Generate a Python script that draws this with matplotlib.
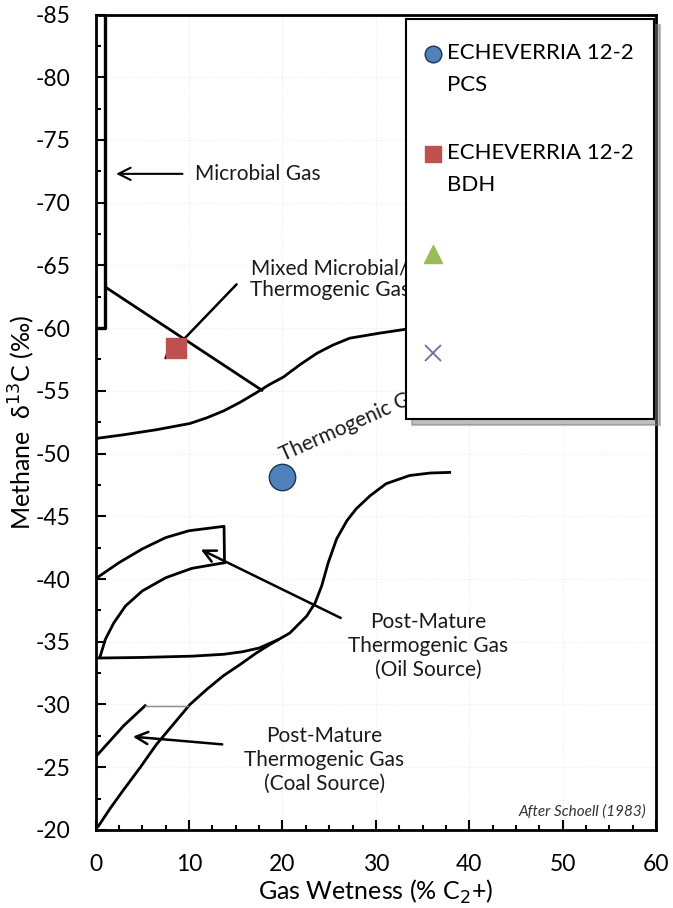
import numpy as np
import matplotlib
matplotlib.use("Agg")
import matplotlib.pyplot as plt
from matplotlib.lines import Line2D

plt.rcParams['font.family'] = ['Lato', 'DejaVu Sans']
plt.rcParams['axes.unicode_minus'] = False

# sample points
pcs_x = [20.0]
pcs_y = [-48.1]
bdh_x = [8.6]
bdh_y = [-58.4]

# Schoell (1983) field boundaries
microbial_x = [0.0, 1.0, 1.0]
microbial_y = [-60.0, -60.0, -85.0]

mixed_x = [1.2, 17.8]
mixed_y = [-63.2, -55.05]

thermo_top_x = [0.0, 3.0, 6.5, 10.1, 11.9, 13.7, 15.5, 17.2, 18.6, 20.1, 21.9, 23.7, 25.4, 27.2, 30.4, 33.1, 36.0]
thermo_top_y = [-51.2, -51.5, -51.9, -52.4, -52.85, -53.4, -54.1, -54.85, -55.5, -56.1, -57.1, -58.0, -58.65, -59.2, -59.6, -59.9, -60.1]

thermo_low_x = [0.3, 1.55, 3.0, 4.8, 6.5, 8.3, 10.1, 11.9, 13.7, 15.5, 17.2, 18.7, 20.8, 22.6, 23.5, 24.2,
                24.9, 25.8, 26.9, 27.9, 29.4, 31.1, 33.6, 35.8, 37.9]
thermo_low_y = [-20.3, -21.7, -23.2, -25.0, -26.8, -28.4, -30.0, -31.2, -32.3, -33.2, -34.1, -34.8, -35.7, -37.05, -38.1, -39.45,
                -41.3, -43.2, -44.65, -45.6, -46.65, -47.6, -48.25, -48.45, -48.5]

oil_outer_x = [0.15, 2.5, 5.0, 7.5, 10.0, 13.75, 13.8]
oil_outer_y = [-40.1, -41.3, -42.4, -43.3, -43.85, -44.2, -41.3]
oil_inner_x = [13.8, 10.3, 7.5, 5.0, 3.2, 1.95, 1.05, 0.5]
oil_inner_y = [-41.3, -40.85, -40.1, -39.05, -37.85, -36.5, -35.2, -33.85]
oil_base_x = [0.15, 5.0, 10.3, 13.7, 15.7, 17.5, 19.5]
oil_base_y = [-33.7, -33.75, -33.85, -34.0, -34.2, -34.5, -35.15]

coal_x = [0.1, 1.55, 3.0, 5.3]
coal_y = [-25.9, -27.1, -28.3, -29.9]
coal_top_x = [5.3, 9.9]
coal_top_y = [-29.9, -29.9]

legend_labels = ['ECHEVERRIA 12-2\nPCS', 'ECHEVERRIA 12-2\nBDH', ' \n ', ' \n ']

fig = plt.figure(figsize=(6.73, 9.08), dpi=100)
ax = fig.add_axes([0.142, 0.086, 0.833, 0.898])

ax.set_xlim(0, 60)
ax.set_ylim(-20, -85)
ax.set_xticks(np.arange(0, 61, 10))
ax.set_yticks(np.arange(-85, -19, 5))
ax.set_xticks(np.arange(0, 61, 2.5), minor=True)
ax.set_yticks(np.arange(-85, -19, 2.5), minor=True)
ax.tick_params(which='both', direction='in', width=1.5, labelsize=16.5)
ax.tick_params(axis='y', pad=18)
ax.tick_params(axis='x', pad=17)
ax.tick_params(which='major', length=7)
ax.tick_params(which='minor', length=3.5)
ax.grid(True, which='major', color='#ebebeb', lw=0.8, ls=':')
for s in ax.spines.values():
    s.set_linewidth(2)

ax.set_xlabel('Gas Wetness (% C$_2$+)', fontsize=18, labelpad=2)
ax.set_ylabel('Methane  δ$^{13}$C (‰)', fontsize=18, va='center')
ax.yaxis.set_label_coords(-0.132, 0.5)

lw = 2
ax.plot(microbial_x, microbial_y, color='black', lw=2.4)
ax.plot(mixed_x, mixed_y, color='black', lw=lw)
ax.plot(thermo_top_x, thermo_top_y, color='black', lw=lw)
ax.plot(thermo_low_x, thermo_low_y, color='black', lw=lw)
ax.plot(oil_outer_x, oil_outer_y, color='black', lw=lw)
ax.plot(oil_inner_x, oil_inner_y, color='black', lw=lw)
ax.plot(oil_base_x, oil_base_y, color='black', lw=lw)
ax.plot(coal_x, coal_y, color='black', lw=lw)
ax.plot(coal_top_x, coal_top_y, color='#888888', lw=1)

tc = '#1a1a1a'
fs = 15
ax.annotate('', xy=(1.9, -72.3), xytext=(9.6, -72.3),
            arrowprops=dict(arrowstyle='->', color='black', lw=1.5, mutation_scale=22))
ax.text(10.6, -72.3, 'Microbial Gas', fontsize=fs, color=tc, va='center')

ax.annotate('', xy=(7.1, -57.3), xytext=(15.3, -63.65),
            arrowprops=dict(arrowstyle='-|>', color='black', lw=1.8, mutation_scale=18))
ax.text(25.1, -63.9, 'Mixed Microbial/\nThermogenic Gas', fontsize=fs, color=tc,
        ha='center', va='center', multialignment='center', linespacing=1.15)

ax.text(20.1, -49.4, 'Thermogenic Gas', fontsize=fs, color=tc, rotation=24,
        rotation_mode='anchor', ha='left', va='baseline')

ax.annotate('', xy=(11.0, -42.45), xytext=(26.5, -36.8),
            arrowprops=dict(arrowstyle='->', color='black', lw=1.8, mutation_scale=22))
ax.text(35.6, -34.7, 'Post-Mature\nThermogenic Gas\n(Oil Source)', fontsize=fs, color=tc,
        ha='center', va='center', multialignment='center', linespacing=1.25)

ax.annotate('', xy=(3.7, -27.45), xytext=(13.85, -26.8),
            arrowprops=dict(arrowstyle='->', color='black', lw=1.8, mutation_scale=22))
ax.text(24.5, -25.6, 'Post-Mature\nThermogenic Gas\n(Coal Source)', fontsize=fs, color=tc,
        ha='center', va='center', multialignment='center', linespacing=1.25)

ax.text(58.9, -21.5, 'After Schoell (1983)', fontsize=11, style='italic', color='#333333',
        ha='right', va='center')

ax.plot(pcs_x, pcs_y, 'o', ms=19, mfc='#4F81BD', mec='#1f3550', mew=1, zorder=5)
ax.plot(bdh_x, bdh_y, 's', ms=15, mfc='#C0504D', mec='#C0504D', zorder=5)

handles = [
    Line2D([], [], ls='none', marker='o', ms=12, mfc='#4F81BD', mec='#1f3550', mew=1),
    Line2D([], [], ls='none', marker='s', ms=12, mfc='#C0504D', mec='#C0504D'),
    Line2D([], [], ls='none', marker='^', ms=13, mfc='#9BBB59', mec='#9BBB59'),
    Line2D([], [], ls='none', marker='x', ms=12, mec='#8064A2', mew=1.3),
]
leg = ax.legend(handles, legend_labels, loc='upper left',
                bbox_to_anchor=(406 / 673, 1 - 19 / 908 - 0.01, 248 / 673, 0.01),
                bbox_transform=fig.transFigure, mode='expand',
                fontsize=16, frameon=True, fancybox=False, framealpha=1,
                edgecolor='black', borderpad=1.1, labelspacing=2.15,
                handlelength=0.6, handletextpad=0.15, borderaxespad=0,
                shadow={'ox': 4, 'oy': -4, 'shade': 0.5, 'alpha': 0.5})
leg.get_frame().set_linewidth(1.5)
leg.set_zorder(10)
for t in leg.get_texts():
    t.set_linespacing(1.75)
for h in leg.legend_handles:
    h.set_ydata(np.asarray(h.get_ydata()) + 11.2)
    h.set_xdata(np.asarray(h.get_xdata()) - 3.0)

fig.savefig('out.png', dpi=100)
